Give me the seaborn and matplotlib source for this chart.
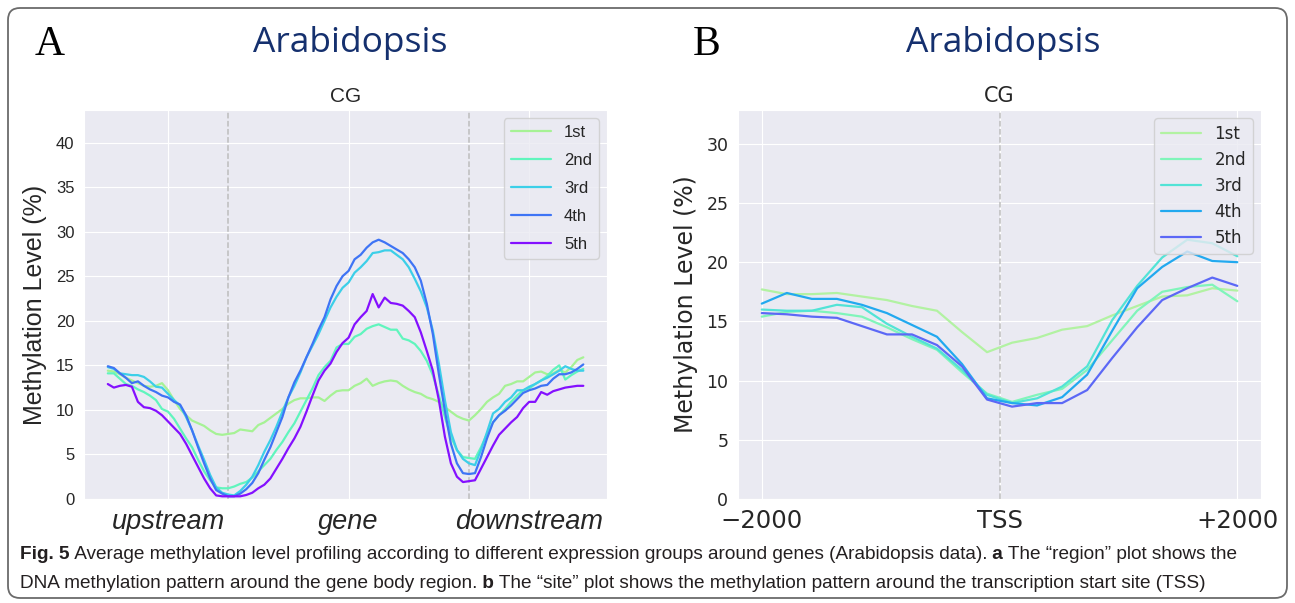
import numpy as np
import pandas as pd
import matplotlib
matplotlib.use("Agg")
import matplotlib.pyplot as plt
import seaborn as sns
from matplotlib.patches import FancyBboxPatch

# ---- data: panel A ("region" plot), 80 bins: 20 upstream, 40 gene, 20 downstream
groups = ['1st', '2nd', '3rd', '4th', '5th']

reg_1st = [14.4, 14.3, 14.0, 13.6, 13.3, 13.0, 12.7, 12.6, 12.7, 13.0,
           12.2, 11.1, 10.1, 9.4, 8.8, 8.5, 8.2, 7.7, 7.3, 7.2,
           7.3, 7.4, 7.8, 7.7, 7.6, 8.3, 8.6, 9.1, 9.6, 10.1,
           10.7, 11.1, 11.3, 11.3, 11.4, 11.4, 11.0, 11.6, 12.1, 12.2,
           12.2, 12.7, 13.0, 13.5, 12.7, 13.0, 13.2, 13.3, 13.2, 12.7,
           12.3, 12.0, 11.8, 11.4, 11.2, 10.9, 10.3, 9.8, 9.3, 9.0,
           8.8, 9.4, 10.1, 10.9, 11.4, 11.8, 12.7, 12.9, 13.2, 13.2,
           13.7, 14.2, 14.3, 14.0, 14.1, 14.5, 14.2, 14.8, 15.6, 15.9]
reg_2nd = [14.1, 14.1, 13.5, 12.9, 12.7, 12.3, 12.0, 11.6, 11.1, 10.1,
           9.8, 9.0, 7.9, 6.8, 5.8, 4.4, 3.1, 2.1, 1.3, 1.2,
           1.2, 1.4, 1.7, 1.9, 2.4, 3.1, 3.8, 4.5, 5.5, 6.4,
           7.5, 8.5, 9.8, 11.1, 12.4, 13.9, 14.8, 15.5, 17.0, 17.4,
           17.4, 18.2, 18.5, 19.1, 19.4, 19.6, 19.3, 19.0, 19.0, 18.0,
           17.8, 17.4, 16.6, 15.5, 13.9, 11.6, 9.2, 7.0, 5.5, 4.7,
           4.6, 4.5, 5.8, 7.3, 8.6, 9.4, 10.1, 10.9, 11.6, 12.2,
           12.4, 12.9, 13.3, 13.8, 14.5, 15.0, 13.4, 13.9, 14.3, 14.6]
reg_3rd = [14.8, 14.6, 14.1, 14.0, 13.9, 13.9, 13.7, 13.2, 12.6, 12.5,
           11.8, 11.1, 10.5, 9.2, 7.7, 6.0, 4.4, 2.7, 1.3, 0.7,
           0.5, 0.4, 0.9, 1.6, 2.5, 3.8, 5.3, 6.6, 8.1, 9.8,
           11.4, 12.7, 14.2, 15.9, 17.2, 18.5, 20.0, 21.5, 22.7, 23.7,
           24.3, 25.4, 26.0, 26.7, 27.6, 27.7, 27.9, 27.9, 27.4, 26.9,
           26.0, 24.7, 23.3, 21.5, 18.9, 15.2, 11.1, 7.5, 5.5, 4.5,
           4.0, 3.8, 5.5, 7.5, 9.6, 10.1, 10.9, 11.4, 12.2, 12.2,
           12.6, 12.9, 13.3, 13.6, 14.0, 14.4, 14.9, 14.6, 14.4, 14.4]
reg_4th = [14.9, 14.7, 14.1, 13.6, 13.0, 13.2, 12.7, 12.3, 12.0, 11.6,
           11.4, 10.9, 10.6, 9.4, 7.7, 5.8, 4.0, 2.3, 1.0, 0.6,
           0.3, 0.3, 0.6, 1.1, 1.8, 2.9, 4.4, 5.8, 7.5, 9.2,
           11.4, 13.1, 14.4, 15.9, 17.4, 19.0, 20.4, 22.4, 23.9, 25.0,
           25.6, 26.9, 27.4, 28.2, 28.8, 29.1, 28.8, 28.4, 28.0, 27.6,
           26.9, 26.0, 24.5, 21.9, 18.5, 14.0, 9.9, 6.2, 4.0, 2.9,
           2.8, 2.9, 4.7, 6.8, 8.6, 9.4, 9.9, 10.5, 11.2, 11.9,
           12.2, 12.4, 12.7, 12.8, 13.5, 14.0, 14.0, 14.2, 14.6, 15.1]
reg_5th = [12.9, 12.5, 12.7, 12.8, 12.6, 10.9, 10.3, 10.2, 9.9, 9.4,
           8.7, 8.0, 7.3, 6.2, 4.9, 3.6, 2.3, 1.2, 0.4, 0.3,
           0.3, 0.3, 0.3, 0.45, 0.7, 1.2, 1.6, 2.3, 3.4, 4.5,
           5.7, 6.8, 8.1, 9.8, 11.6, 13.3, 14.4, 15.2, 16.5, 17.5,
           18.1, 19.6, 20.4, 21.1, 23.0, 21.5, 22.6, 22.0, 21.9, 21.7,
           21.1, 20.4, 18.7, 16.6, 14.4, 11.1, 7.0, 4.0, 2.5, 1.9,
           2.0, 2.1, 3.4, 4.7, 6.0, 7.2, 7.9, 8.6, 9.2, 10.2,
           10.9, 10.9, 12.0, 11.7, 12.1, 12.3, 12.5, 12.6, 12.7, 12.7]
reg_ticks = [10, 40, 70]
reg_ticklabels = ['upstream', 'gene', 'downstream']
reg_borders = [20, 60]

# ---- data: panel B ("site" plot), 20 bins from -2000 to +2000
site_1st = [17.7, 17.3, 17.3, 17.4, 17.1, 16.8, 16.3, 15.9, 14.1, 12.4,
            13.2, 13.6, 14.3, 14.6, 15.5, 16.3, 17.1, 17.2, 17.8, 17.6]
site_2nd = [15.4, 15.8, 15.9, 15.7, 15.4, 14.5, 13.5, 12.6, 10.7, 8.9,
            8.2, 8.8, 9.3, 10.9, 13.4, 15.9, 17.5, 17.9, 18.1, 16.7]
site_3rd = [16.0, 15.9, 15.9, 16.4, 16.2, 14.8, 13.7, 12.7, 10.9, 8.8,
            8.1, 8.5, 9.5, 11.2, 15.1, 18.0, 20.4, 21.9, 21.6, 20.5]
site_4th = [16.5, 17.4, 16.9, 16.9, 16.4, 15.7, 14.7, 13.7, 11.4, 8.5,
            8.1, 7.9, 8.6, 10.5, 14.2, 17.8, 19.6, 20.9, 20.1, 20.0]
site_5th = [15.7, 15.6, 15.4, 15.3, 14.6, 13.9, 13.9, 13.0, 11.2, 8.4,
            7.8, 8.1, 8.1, 9.2, 11.9, 14.5, 16.8, 17.8, 18.7, 18.0]
site_ticks = [0, 9.5, 19]
site_ticklabels = ['\u22122000', 'TSS', '+2000']
site_center = 9.5

pal_a = ['#a6f295', '#60f5bd', '#3ccfe8', '#3e74f5', '#8410ff']
pal_b = ['#b2f2a2', '#80f5ba', '#52e3d6', '#22a9ef', '#5c68f6']

caption_1 = [("Fig. 5", 'bold'),
             (" Average methylation level profiling according to different expression groups around genes (Arabidopsis data).", 'normal'),
             (" a", 'bold'),
             (" The \u201cregion\u201d plot shows the", 'normal')]
caption_2 = [("DNA methylation pattern around the gene body region.", 'normal'),
             (" b", 'bold'),
             (" The \u201csite\u201d plot shows the methylation pattern around the transcription start site (TSS)", 'normal')]


def to_long(series_list):
    frames = []
    for name, vals in zip(groups, series_list):
        frames.append(pd.DataFrame({'x': np.arange(len(vals)), 'level': vals, 'group': name}))
    return pd.concat(frames, ignore_index=True)


df_a = to_long([reg_1st, reg_2nd, reg_3rd, reg_4th, reg_5th])
df_b = to_long([site_1st, site_2nd, site_3rd, site_4th, site_5th])

sns.set_style("darkgrid")
fig = plt.figure(figsize=(12.95, 6.03), dpi=100)

# ---- panel A (Arial-like font)
famA = ['Liberation Sans', 'DejaVu Sans']
axA = fig.add_axes([0.0649, 0.1725, 0.4039, 0.645])
sns.lineplot(data=df_a, x='x', y='level', hue='group', palette=pal_a, lw=1.6, ax=axA)
for b in reg_borders:
    axA.axvline(b, color='#bdbdbd', ls='--', lw=1.1, zorder=1)
axA.set_ylim(0, df_a['level'].max() * 1.5)
axA.set_xticks(reg_ticks)
axA.set_xticklabels(reg_ticklabels, fontfamily=famA, fontstyle='italic', fontsize=19.5)
axA.set_yticks(range(0, 45, 5))
axA.set_yticklabels([str(v) for v in range(0, 45, 5)], fontfamily=famA, fontsize=12)
axA.set_xlabel('')
axA.set_ylabel('Methylation Level (%)', fontfamily=famA, fontsize=18, labelpad=6)
axA.set_title('CG', fontfamily=famA, fontsize=15, pad=6)
axA.legend(loc='upper right', prop={'family': famA, 'size': 12}, handlelength=2.4,
           labelspacing=0.78)

# ---- panel B (DejaVu font)
axB = fig.add_axes([0.5699, 0.1725, 0.4039, 0.645])
sns.lineplot(data=df_b, x='x', y='level', hue='group', palette=pal_b, lw=1.6, ax=axB)
axB.axvline(site_center, color='#bdbdbd', ls='--', lw=1.1, zorder=1)
axB.set_ylim(0, df_b['level'].max() * 1.5)
axB.set_xticks(site_ticks)
axB.set_xticklabels(site_ticklabels, fontsize=17.5)
axB.set_yticks(range(0, 35, 5))
axB.set_yticklabels([str(v) for v in range(0, 35, 5)], fontsize=12.5)
axB.set_xlabel('')
axB.set_ylabel('Methylation Level (%)', fontsize=17, labelpad=6)
axB.set_title('CG', fontsize=15, pad=6)
axB.legend(loc='upper right', fontsize=12, handlelength=2.4, labelspacing=0.48)

# ---- panel letters and headers
serif = ['Liberation Serif', 'DejaVu Serif']
fig.text(0.0386, 0.925, 'A', fontfamily=serif, fontsize=30, ha='center', va='center', color='black')
fig.text(0.546, 0.925, 'B', fontfamily=serif, fontsize=30, ha='center', va='center', color='black')
fig.text(0.2703, 0.929, 'Arabidopsis', fontfamily=['Open Sans', 'DejaVu Sans'], fontsize=25.5,
         ha='center', va='center', color='#15306e')
fig.text(0.7745, 0.929, 'Arabidopsis', fontfamily=['Open Sans', 'DejaVu Sans'], fontsize=25.5,
         ha='center', va='center', color='#15306e')

# ---- frame
fig.patches.append(FancyBboxPatch((0.08, 0.05), 12.79, 5.90,
                                  boxstyle='round,pad=0,rounding_size=0.12',
                                  transform=fig.dpi_scale_trans, fill=False,
                                  ec='#6b6b6b', lw=1.3, figure=fig))

# ---- caption, pieces placed one after another
capfam = ['Liberation Sans Narrow', 'Liberation Sans', 'DejaVu Sans']
renderer = fig.canvas.get_renderer()
for pieces, y in [(caption_1, 0.080), (caption_2, 0.032)]:
    x = 0.0155
    for txt, weight in pieces:
        t = fig.text(x, y, txt, fontfamily=capfam, fontweight=weight, fontsize=13.7,
                     ha='left', va='center', color='#231f20')
        bb = t.get_window_extent(renderer=renderer)
        x += bb.width / fig.bbox.width

fig.savefig('out.png', dpi=100)
